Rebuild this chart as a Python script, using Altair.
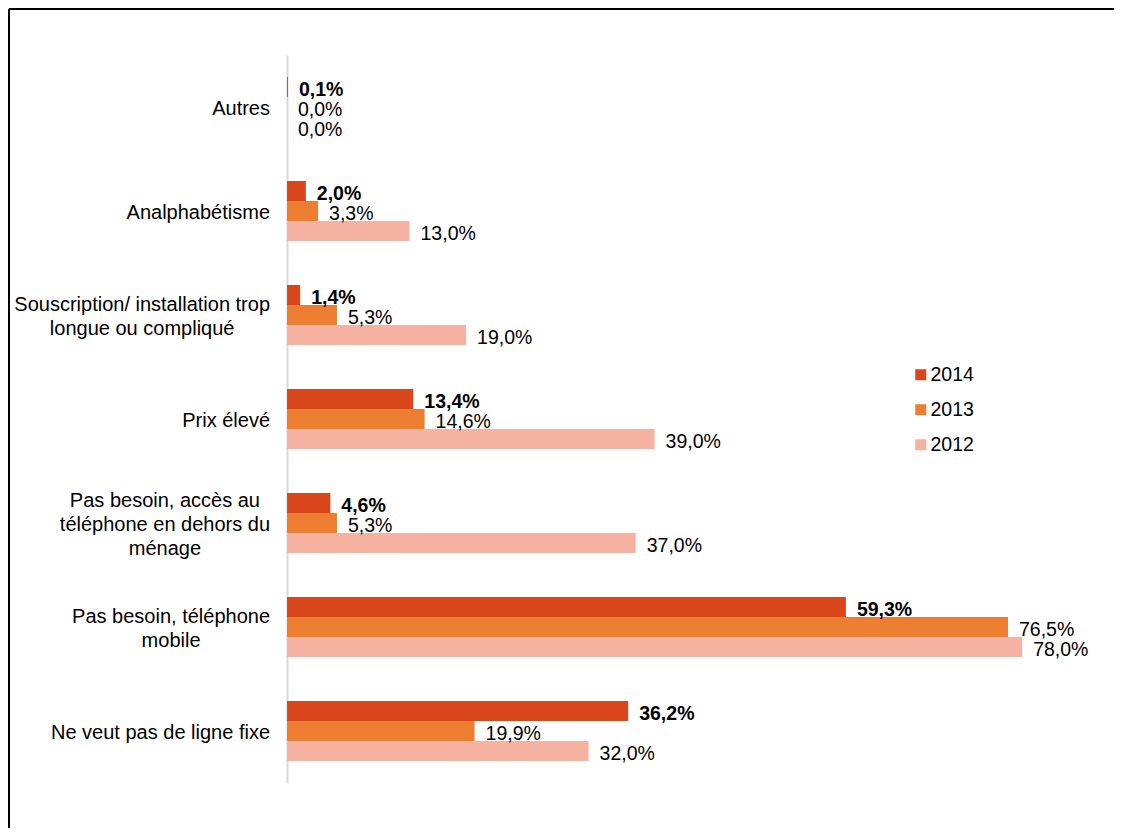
import altair as alt
import pandas as pd

categories = [
    "Autres",
    "Analphabétisme",
    "Souscription/ installation trop\nlongue ou compliqué",
    "Prix élevé",
    "Pas besoin, accès au\ntéléphone en dehors du\nménage",
    "Pas besoin, téléphone\nmobile",
    "Ne veut pas de ligne fixe",
]
years = ["2014", "2013", "2012"]
v2014 = [0.1, 2.0, 1.4, 13.4, 4.6, 59.3, 36.2]
v2013 = [0.0, 3.3, 5.3, 14.6, 5.3, 76.5, 19.9]
v2012 = [0.0, 13.0, 19.0, 39.0, 37.0, 78.0, 32.0]
colors = ["#D9461B", "#ED7D31", "#F5B2A1"]

rows = []
for yr, vals in zip(years, [v2014, v2013, v2012]):
    for c, v in zip(categories, vals):
        rows.append({"cat": c, "year": yr, "value": v,
                     "label": f"{v:.1f}".replace(".", ",") + "%"})
df = pd.DataFrame(rows)

FONT = "Liberation Sans"
FS = 19.5
CAT_FS = 20
LINE_H = 24
LABEL_GAP = 17  # distance between axis line and right edge of category labels

# Arial / Liberation Sans advance widths (per 1000 em) used to centre
# the lines of wrapped category labels inside their block (as Excel does)
AW = {" ": 278, ",": 278, "/": 278, "a": 556, "b": 556, "c": 500, "d": 556,
      "e": 556, "é": 556, "è": 556, "f": 278, "g": 556, "h": 556, "i": 222,
      "l": 222, "m": 833, "n": 556, "o": 556, "p": 556, "q": 556, "r": 333,
      "s": 500, "t": 278, "u": 556, "v": 500, "x": 500, "A": 667, "N": 722,
      "P": 667, "S": 667}


def text_w(s):
    return sum(AW.get(ch, 556) for ch in s) / 1000 * CAT_FS


cat_rows = []
for c in categories:
    lines = c.split("\n")
    maxw = max(text_w(l) for l in lines)
    cat_rows.append({"cat": c,
                     "cx": -LABEL_GAP - maxw / 2,
                     "dy": -(len(lines) - 1) * LINE_H / 2})
catdf = pd.DataFrame(cat_rows)

y_enc = alt.Y("cat:N", sort=categories,
              scale=alt.Scale(paddingInner=0.423, paddingOuter=0.2115),
              axis=alt.Axis(title=None, ticks=False, labels=False,
                            domainColor="#D9D9D9", domainWidth=2, grid=False))
yoff = alt.YOffset("year:N", sort=years,
                   scale=alt.Scale(paddingInner=0, paddingOuter=0))
x_enc = alt.X("value:Q", scale=alt.Scale(domain=[0, 80], nice=False),
              axis=None)

base = alt.Chart(df)

bars = base.mark_bar().encode(
    y=y_enc, yOffset=yoff, x=x_enc,
    color=alt.Color("year:N", sort=years,
                    scale=alt.Scale(domain=years, range=colors),
                    legend=alt.Legend(title=None, orient="none",
                                      legendX=624, legendY=310,
                                      symbolType="square", symbolSize=121,
                                      symbolStrokeWidth=0,
                                      labelFont=FONT, labelFontSize=FS,
                                      labelColor="#000000", labelOffset=0,
                                      rowPadding=14)),
)

txt_norm = base.transform_filter(alt.datum.year != "2014").mark_text(
    align="left", baseline="middle", dx=11, dy=3,
    font=FONT, fontSize=FS, color="#000000",
).encode(y=alt.Y("cat:N", sort=categories), yOffset=alt.YOffset("year:N", sort=years),
         x=alt.X("value:Q"), text="label:N")

txt_bold = base.transform_filter(alt.datum.year == "2014").mark_text(
    align="left", baseline="middle", dx=11, dy=3,
    font=FONT, fontSize=FS, fontWeight="bold", color="#000000",
).encode(y=alt.Y("cat:N", sort=categories), yOffset=alt.YOffset("year:N", sort=years),
         x=alt.X("value:Q"), text="label:N")

cat_labels = alt.Chart(catdf).mark_text(
    align="center", baseline="middle", lineBreak="\n", lineHeight=LINE_H,
    font=FONT, fontSize=CAT_FS, color="#000000",
    dy=alt.expr("datum.dy + 2"),
).encode(y=alt.Y("cat:N", sort=categories),
         x=alt.X("cx:Q", scale=None), text="cat:N")

frame_top = alt.Chart(alt.Data(values=[{}])).mark_rule(
    color="#000000", strokeWidth=2).encode(
    x=alt.value(-278), x2=alt.value(840), y=alt.value(-46))
frame_left = alt.Chart(alt.Data(values=[{}])).mark_rule(
    color="#000000", strokeWidth=2).encode(
    x=alt.value(-278), y=alt.value(-46), y2=alt.value(780))

chart = alt.layer(bars, txt_norm, txt_bold, cat_labels, frame_top, frame_left).properties(
    width=754, height=728,
    autosize=alt.AutoSizeParams(type="none"),
    padding={"left": 279, "top": 47, "right": 73, "bottom": 45},
    background="#FFFFFF",
).configure_view(stroke=None)

chart.save("out.html", embed_options={"renderer": "svg", "actions": False})
